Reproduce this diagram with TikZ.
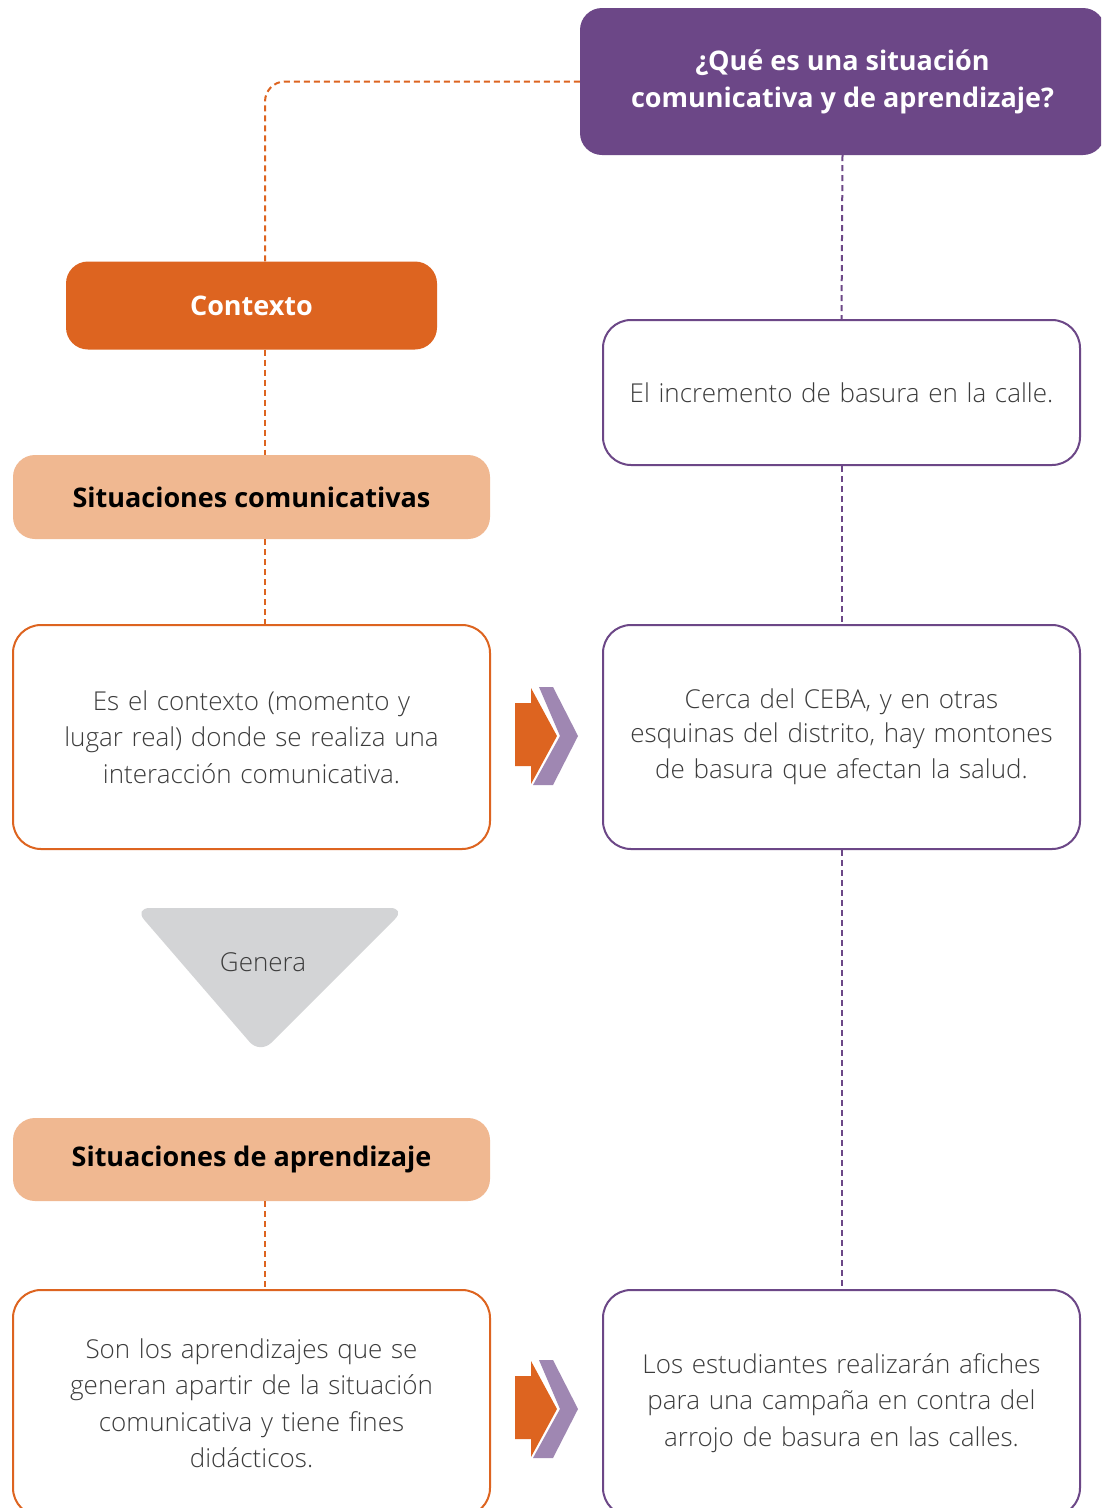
\documentclass[tikz,border=0pt]{standalone}
\usepackage{fontspec}
\setmainfont{Open Sans}
\newfontfamily\lightfont{Open Sans Light}
\usepackage{tikz}
\usetikzlibrary{positioning, calc}

\definecolor{naranja}{HTML}{DD6420}
\definecolor{durazno}{HTML}{F0B891}
\definecolor{morado}{HTML}{6C4787}
\definecolor{lila}{HTML}{9F87B2}
\definecolor{gris}{HTML}{D3D4D6}
\definecolor{texto}{HTML}{3C3C3C}

\begin{document}
\begin{tikzpicture}[x=1pt, y=-1pt,
    titulo/.style={fill=morado, rounded corners=22pt, text=white, font=\fontsize{27}{37}\selectfont\bfseries, align=center, minimum width=525pt, minimum height=147pt},
    etiqueta/.style={rounded corners=22pt, font=\fontsize{27}{37}\selectfont\bfseries, align=center, minimum height=86pt},
    caja/.style={draw, line width=2pt, fill=white, rounded corners=28pt, text=texto, font=\lightfont\fontsize{26}{36.5}\selectfont, align=center, text width=440pt, minimum width=477pt},
    enlace/.style={line width=2pt, dash pattern=on 6pt off 4pt},
]
\clip (0,0) rectangle (1101,1508);
\fill[white] (0,0) rectangle (1101,1508);

\coordinate (eje) at (265,0);

% columna derecha
\node[titulo] (preg) at (842.5,81.5) {\raisebox{-4pt}{¿Qué es una situación}\\\raisebox{-4pt}{comunicativa y de aprendizaje?}};
\node[caja, draw=morado, minimum height=145pt] (ej1) at (841.5,392.5) {El incremento de basura en la calle.};
\node[caja, draw=morado, minimum height=224pt] (ej2) at (841.5,737) {\raisebox{-3pt}{Cerca del CEBA, y en otras}\\esquinas del distrito, hay montones\\de basura que afectan la salud.};
\node[caja, draw=morado, minimum height=226pt] (ej3) at (841.5,1403) {Los estudiantes realizarán afiches\\para una campaña en contra del\\arrojo de basura en las calles.};

% columna izquierda
\node[etiqueta, fill=naranja, text=white, minimum width=371pt, minimum height=88pt] (ctx) at (251.5,305.5) {Contexto};
\node[etiqueta, fill=durazno, text=black, minimum width=477pt, minimum height=84pt] (scom) at (251.5,497) {Situaciones comunicativas};
\node[caja, draw=naranja, minimum height=224pt] (def1) at (251.5,737) {Es el contexto (momento y\\lugar real) donde se realiza una\\interacción comunicativa.};
\node[etiqueta, fill=durazno, text=black, minimum width=477pt, minimum height=83pt] (sapr) at (251.5,1159.5) {\raisebox{-3pt}{Situaciones de aprendizaje}};
\node[caja, draw=naranja, minimum height=226pt] (def2) at (251.5,1403) {Son los aprendizajes que se\\generan apartir de la situación\\comunicativa y tiene fines\\didácticos.};

% triangulo "Genera"
\fill[gris, rounded corners=16pt] (134,908) -- (406,908) -- (260,1054) -- cycle;
\node[text=texto, font=\lightfont\fontsize{26}{36}\selectfont] (gen) at (263,962) {Genera};

% flechas
\foreach \y in {736, 1409} {
  \fill[naranja] (515,\y-33) -- (531,\y-33) -- (531,\y-48) -- (557,\y) -- (531,\y+48) -- (531,\y+30) -- (515,\y+30) -- cycle;
  \fill[lila] (539,\y-49) -- (553,\y-49) -- (578,\y) -- (553,\y+49) -- (533,\y+49) -- (560,\y) -- cycle;
}

% conectores
\draw[enlace, draw=naranja, rounded corners=20pt] (preg.west) -| (eje |- ctx.north);
\draw[enlace, draw=naranja] (eje |- ctx.south) -- (eje |- scom.north);
\draw[enlace, draw=naranja] (eje |- scom.south) -- (eje |- def1.north);
\draw[enlace, draw=naranja] (eje |- sapr.south) -- (eje |- def2.north);

\draw[enlace, draw=morado] (preg.south) -- (ej1.north);
\draw[enlace, draw=morado] (ej1.south) -- (ej2.north);
\draw[enlace, draw=morado] (ej2.south) -- (ej3.north);
\end{tikzpicture}
\end{document}
